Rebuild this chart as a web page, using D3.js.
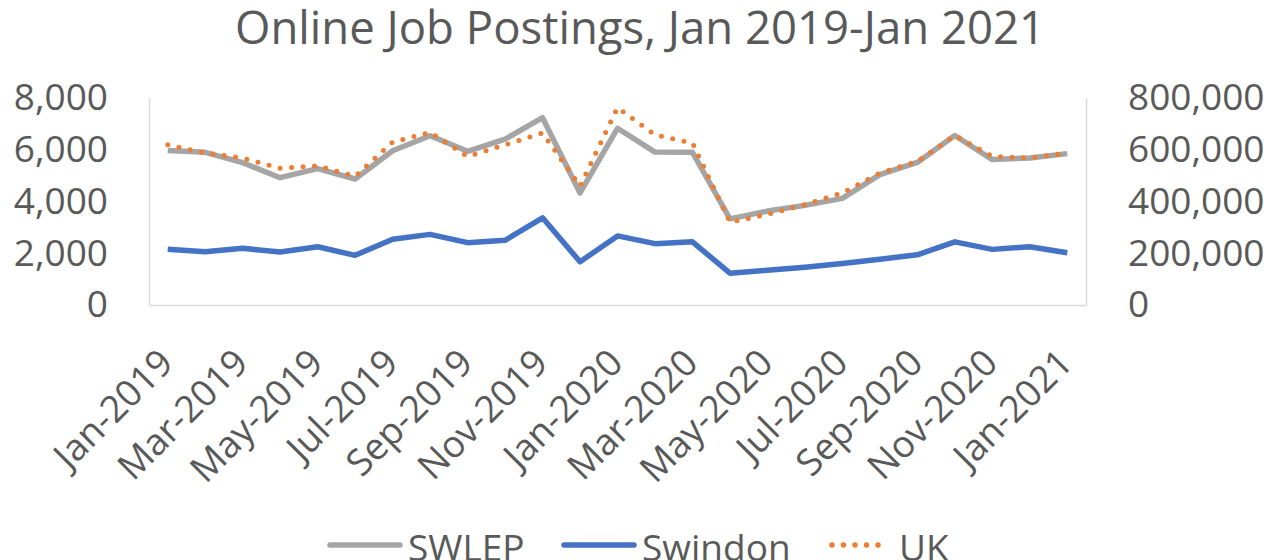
<!DOCTYPE html>
<html>
<head>
<meta charset="utf-8">
<script src="https://cdn.jsdelivr.net/npm/d3@7"></script>
<style>
  body { margin: 0; background: #fff; }
  svg text { font-family: "Open Sans", sans-serif; fill: #595959; }
</style>
</head>
<body>
<script>
// months on the category axis
var months = ["Jan-2019","Feb-2019","Mar-2019","Apr-2019","May-2019","Jun-2019",
  "Jul-2019","Aug-2019","Sep-2019","Oct-2019","Nov-2019","Dec-2019",
  "Jan-2020","Feb-2020","Mar-2020","Apr-2020","May-2020","Jun-2020",
  "Jul-2020","Aug-2020","Sep-2020","Oct-2020","Nov-2020","Dec-2020","Jan-2021"];

// left axis series
var swlep = [5970, 5900, 5500, 4920, 5270, 4870, 5960, 6540, 5940, 6410, 7240, 4330,
  6830, 5910, 5900, 3330, 3630, 3850, 4120, 5040, 5510, 6550, 5620, 5680, 5850];
var swindon = [2150, 2060, 2190, 2050, 2250, 1920, 2540, 2730, 2410, 2500, 3370, 1670,
  2670, 2370, 2440, 1230, 1340, 1460, 1600, 1770, 1940, 2440, 2150, 2250, 2020];
// right axis series
var uk = [619000, 587000, 568000, 528000, 538000, 497000, 630000, 667000, 574000, 619000, 665000, 459000,
  763000, 658000, 626000, 320000, 350000, 388000, 433000, 510000, 555000, 655000, 574000, 568000, 587000];

var leftTicks = [0, 2000, 4000, 6000, 8000];
var rightTicks = [0, 200000, 400000, 600000, 800000];
var xTicks = months.filter(function(d, i){ return i % 2 === 0; });

var width = 1272, height = 560;
var plot = {left: 149, right: 1086, top: 98, bottom: 305};

var svg = d3.select("body").append("svg")
    .attr("width", width)
    .attr("height", height);

var x = d3.scalePoint()
    .domain(months)
    .range([plot.left, plot.right])
    .padding(0.5);

var yLeft = d3.scaleLinear().domain([0, 8000]).range([plot.bottom, plot.top]);
var yRight = d3.scaleLinear().domain([0, 800000]).range([plot.bottom, plot.top]);

// title
svg.append("text")
    .attr("x", 640)
    .attr("y", 44)
    .attr("text-anchor", "middle")
    .style("font-size", "45.5px")
    .text("Online Job Postings, Jan 2019-Jan 2021");

// left axis
var gLeft = svg.append("g")
    .attr("transform", "translate(" + plot.left + ",0)")
    .call(d3.axisLeft(yLeft).tickValues(leftTicks).tickSize(0).tickSizeOuter(0)
        .tickPadding(41).tickFormat(d3.format(",")));

// right axis
var gRight = svg.append("g")
    .attr("transform", "translate(" + plot.right + ",0)")
    .call(d3.axisRight(yRight).tickValues(rightTicks).tickSize(0).tickSizeOuter(0)
        .tickPadding(42).tickFormat(d3.format(",")));

// bottom axis
var gBottom = svg.append("g")
    .attr("transform", "translate(0," + plot.bottom + ")")
    .call(d3.axisBottom(x).tickValues(xTicks).tickSize(0).tickSizeOuter(0));

gBottom.selectAll("text")
    .attr("text-anchor", "end")
    .attr("dy", null)
    .attr("y", null)
    .attr("transform", "translate(7,60) rotate(-45)");

[gLeft, gRight, gBottom].forEach(function(g){
    g.select(".domain").attr("stroke", "#d9d9d9").attr("stroke-width", 1.5);
    g.selectAll("text").style("font-size", "37px").style("font-family", "'Open Sans', sans-serif").attr("fill", "#595959");
});

var lineLeft = d3.line()
    .x(function(d, i){ return x(months[i]); })
    .y(function(d){ return yLeft(d); });
var lineRight = d3.line()
    .x(function(d, i){ return x(months[i]); })
    .y(function(d){ return yRight(d); });

svg.append("path")
    .datum(swindon)
    .attr("fill", "none")
    .attr("stroke", "#4472c4")
    .attr("stroke-width", 5.5)
    .attr("stroke-linejoin", "round")
    .attr("d", lineLeft);

svg.append("path")
    .datum(swlep)
    .attr("fill", "none")
    .attr("stroke", "#a5a5a5")
    .attr("stroke-width", 5.5)
    .attr("stroke-linejoin", "round")
    .attr("d", lineLeft);

svg.append("path")
    .datum(uk)
    .attr("fill", "none")
    .attr("stroke", "#ed7d31")
    .attr("stroke-width", 5)
    .attr("stroke-linecap", "round")
    .attr("stroke-dasharray", "0 11.5")
    .attr("d", lineRight);

// legend
var legend = [
    {name: "SWLEP", color: "#a5a5a5", x: 330, dash: null},
    {name: "Swindon", color: "#4472c4", x: 564, dash: null},
    {name: "UK", color: "#ed7d31", x: 829, dash: "0 11.5"}
];
var lg = svg.selectAll(".legend")
    .data(legend)
    .enter()
    .append("g")
    .attr("class", "legend")
    .attr("transform", function(d){ return "translate(" + d.x + ",545)"; });

lg.append("line")
    .attr("x1", function(d){ return d.dash ? 3 : 0; })
    .attr("x2", function(d){ return d.dash ? 58 : 70; })
    .attr("stroke", function(d){ return d.color; })
    .attr("stroke-width", 5.5)
    .attr("stroke-linecap", "round")
    .attr("stroke-dasharray", function(d){ return d.dash; });

lg.append("text")
    .attr("x", function(d){ return d.dash ? 70 : 78; })
    .attr("y", 16)
    .style("font-size", "37px")
    .text(function(d){ return d.name; });
</script>
</body>
</html>
